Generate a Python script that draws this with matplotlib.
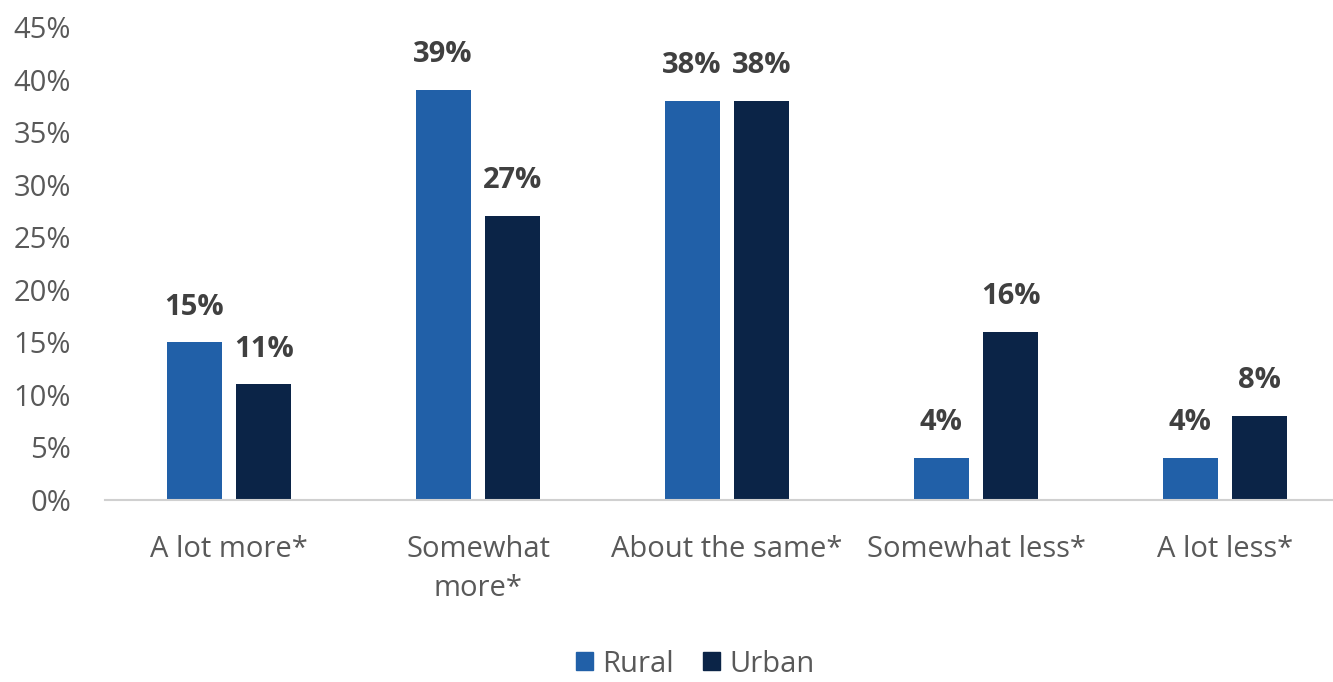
import matplotlib
matplotlib.use("Agg")
import matplotlib.pyplot as plt
import numpy as np
from matplotlib.patches import Patch

categories = ["A lot more*", "Somewhat\nmore*", "About the same*", "Somewhat less*", "A lot less*"]
rural = [15, 39, 38, 4, 4]
urban = [11, 27, 38, 16, 8]
yticks = [0, 5, 10, 15, 20, 25, 30, 35, 40, 45]

plt.rcParams['font.family'] = ['Open Sans', 'DejaVu Sans']

fig = plt.figure(figsize=(13.33, 6.82), dpi=100)
W, H = 1333, 682
left_px, right_px = 104.5, 1349.5
top_px, bot_px = 27, 500
ax = fig.add_axes([left_px / W, 1 - bot_px / H, (right_px - left_px) / W, (bot_px - top_px) / H])

x = np.arange(len(categories))
bw = 0.22
off = 0.14
c_r = "#2160A8"
c_u = "#0B2447"
b1 = ax.bar(x - off, rural, bw, color=c_r)
b2 = ax.bar(x + off, urban, bw, color=c_u)

for bars, vals in ((b1, rural), (b2, urban)):
    for b, v in zip(bars, vals):
        ax.annotate(f"{v}%", (b.get_x() + b.get_width() / 2, v), xytext=(0, 15),
                    textcoords="offset points", ha="center", va="bottom",
                    fontsize=21, fontweight="bold", color="#404040")

ax.set_xlim(-0.5, len(categories) - 0.5)
ax.set_ylim(0, 45)
ax.set_yticks(yticks)
ax.set_yticklabels([f"{t}%" for t in yticks])
ax.set_xticks(x)
ax.set_xticklabels(categories, linespacing=1.45)
ax.tick_params(axis="y", length=0, labelsize=21, labelcolor="#595959", pad=24)
ax.tick_params(axis="x", length=0, labelsize=21, labelcolor="#595959", pad=25)
for s in ["top", "right", "left"]:
    ax.spines[s].set_visible(False)
ax.spines["bottom"].set_color("#D0D0D0")
ax.spines["bottom"].set_linewidth(1.5)

handles = [Patch(color=c_r, label="Rural"), Patch(color=c_u, label="Urban")]
fig.legend(handles=handles, loc="center", bbox_to_anchor=(695 / W, 1 - 664 / H), ncol=2,
           frameon=False, fontsize=21, labelcolor="#595959", handlelength=0.6, handleheight=0.6,
           handletextpad=0.3, columnspacing=1.0)

fig.savefig("out.png", dpi=100)
